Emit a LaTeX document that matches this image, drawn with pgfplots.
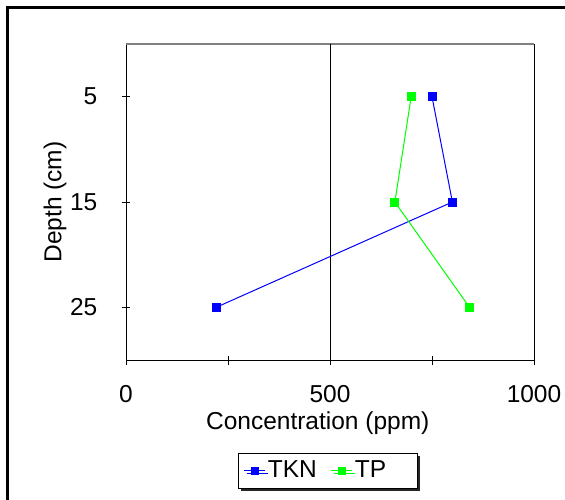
\documentclass[border=0pt]{standalone}
\usepackage{pgfplots}
\pgfplotsset{compat=1.18}
\usepackage{fontspec}
\setmainfont{Liberation Sans}
\usetikzlibrary{shadows}
\begin{document}
\fontsize{24.5}{29}\selectfont
\begin{tikzpicture}
\useasboundingbox (0,0) rectangle (565pt,500pt);
\begin{scope}
\clip (0,0) rectangle (565pt,500pt);
\draw[line width=2.7pt] (7.5pt,-20pt) -- (7.5pt,492.5pt) -- (600pt,492.5pt);
\end{scope}
\begin{axis}[
  at={(126pt,140pt)}, anchor=south west,
  scale only axis, width=408pt, height=316pt,
  xmin=0, xmax=1000, ymin=0, ymax=30, y dir=reverse,
  xtick={0,500,1000}, minor xtick={250,750},
  ytick={5,15,25},
  xtick pos=left, ytick pos=left,
  tick align=center, major tick length=9pt, minor tick length=9pt,
  tick style={black, line width=0.8pt},
  axis line style={black, line width=0.9pt},
  /pgf/number format/assume math mode=true,
  /pgf/number format/1000 sep={},
  ticklabel style={font=\fontsize{24.5}{29}\selectfont, inner sep=0pt},
  xticklabel style={anchor=center, yshift=-30pt},
  yticklabel style={anchor=east, xshift=-24pt},
  xlabel={Concentration (ppm)},
  ylabel={Depth (cm)},
  xlabel style={at={(axis description cs:0.47,-0.199)}, anchor=center, font=\fontsize{24.5}{29}\selectfont},
  ylabel style={at={(axis description cs:-0.174,0.5)}, anchor=center, font=\fontsize{24.5}{29}\selectfont},
  legend columns=2,
  legend style={at={(axis description cs:0.495,-0.351)}, anchor=center,
    draw=black, line width=0.8pt, fill=white,
    drop shadow={shadow xshift=2.5pt, shadow yshift=-2.5pt, fill=black!85, opacity=1},
    font=\fontsize{24.5}{29}\selectfont, inner xsep=5pt, inner ysep=5pt,
    /tikz/every even column/.append style={column sep=12pt}},
  legend image code/.code={\draw[#1, mark repeat=2, mark phase=2, mark size=3.5pt] plot coordinates {(0pt,0pt) (10.5pt,0pt) (21pt,0pt)};},
]
\draw[gray, line width=1.2pt] (axis cs:0,0) -- (axis cs:1000,0);
\draw[black, line width=0.9pt] (axis cs:500,0) -- (axis cs:500,30);
\addplot[color={rgb,255:red,0;green,0;blue,255}, line width=1pt, mark=square*, mark size=4pt, mark options={solid}] coordinates {(750,5) (800,15) (221,25)};
\addlegendentry{TKN}
\addplot[color={rgb,255:red,0;green,255;blue,0}, line width=1pt, mark=square*, mark size=4pt, mark options={solid}] coordinates {(699,5) (659,15) (842,25)};
\addlegendentry{TP\hspace*{24pt}}
\end{axis}
\end{tikzpicture}
\end{document}
